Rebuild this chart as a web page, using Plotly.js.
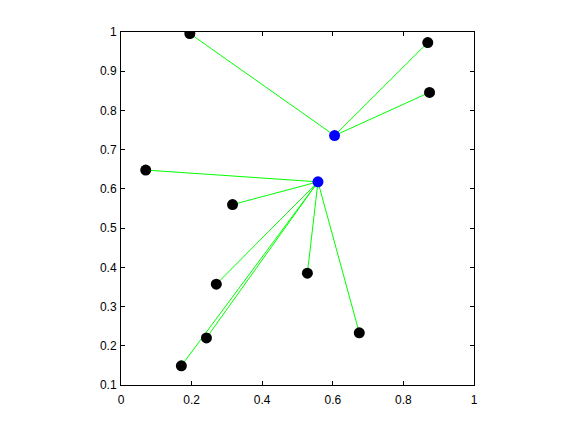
<!DOCTYPE html>
<html>
<head>
<meta charset="utf-8">
<script src="https://cdn.plot.ly/plotly-3.0.1.min.js"></script>
<style>html,body{margin:0;padding:0;background:#fff;}#plot{width:576px;height:432px;}</style>
</head>
<body>
<div id="plot"></div>
<script>
// Data
const centerX = [0.605, 0.558];
const centerY = [0.736, 0.618];
const pointX = [0.195, 0.869, 0.874, 0.070, 0.316, 0.270, 0.528, 0.675, 0.242, 0.171];
const pointY = [0.996, 0.973, 0.846, 0.648, 0.560, 0.357, 0.385, 0.233, 0.220, 0.149];
const pointCluster = [0, 0, 0, 1, 1, 1, 1, 1, 1, 1];
const xTickVals = [0, 0.2, 0.4, 0.6, 0.8, 1];
const xTickText = ["0", "0.2", "0.4", "0.6", "0.8", "1"];
const yTickVals = [0.1, 0.2, 0.3, 0.4, 0.5, 0.6, 0.7, 0.8, 0.9, 1];
const yTickText = ["0.1", "0.2", "0.3", "0.4", "0.5", "0.6", "0.7", "0.8", "0.9", "1"];

const traces = [];
// connecting lines
pointX.forEach((px, i) => {
  const c = pointCluster[i];
  traces.push({
    type: 'scatter', mode: 'lines',
    x: [px, centerX[c]], y: [pointY[i], centerY[c]],
    line: {color: '#00ff00', width: 1},
    hoverinfo: 'skip', showlegend: false
  });
});
traces.push({
  type: 'scatter', mode: 'markers', x: pointX, y: pointY,
  marker: {color: '#000000', size: 11}, showlegend: false
});
traces.push({
  type: 'scatter', mode: 'markers', x: centerX, y: centerY,
  marker: {color: '#0000ff', size: 11}, showlegend: false
});

const axisCommon = {
  showgrid: false, zeroline: false, showline: true, mirror: 'ticks',
  linecolor: '#000', linewidth: 1, ticks: 'inside', ticklen: 4, tickcolor: '#000',
  tickfont: {family: 'Liberation Sans, Arial, sans-serif', size: 12, color: '#000'}
};

const layout = {
  width: 576, height: 432,
  margin: {l: 121.3, r: 101.7, t: 32.3, b: 47.3, pad: 0},
  paper_bgcolor: '#fff', plot_bgcolor: '#fff',
  showlegend: false,
  xaxis: Object.assign({}, axisCommon, {range: [0, 1], tickmode: 'array', tickvals: xTickVals, ticktext: xTickText, ticklabelstandoff: 4}),
  yaxis: Object.assign({}, axisCommon, {range: [0.1, 1], tickmode: 'array', tickvals: yTickVals, ticktext: yTickText, ticklabelstandoff: 1})
};

Plotly.newPlot('plot', traces, layout, {staticPlot: true, displayModeBar: false});
</script>
</body>
</html>
